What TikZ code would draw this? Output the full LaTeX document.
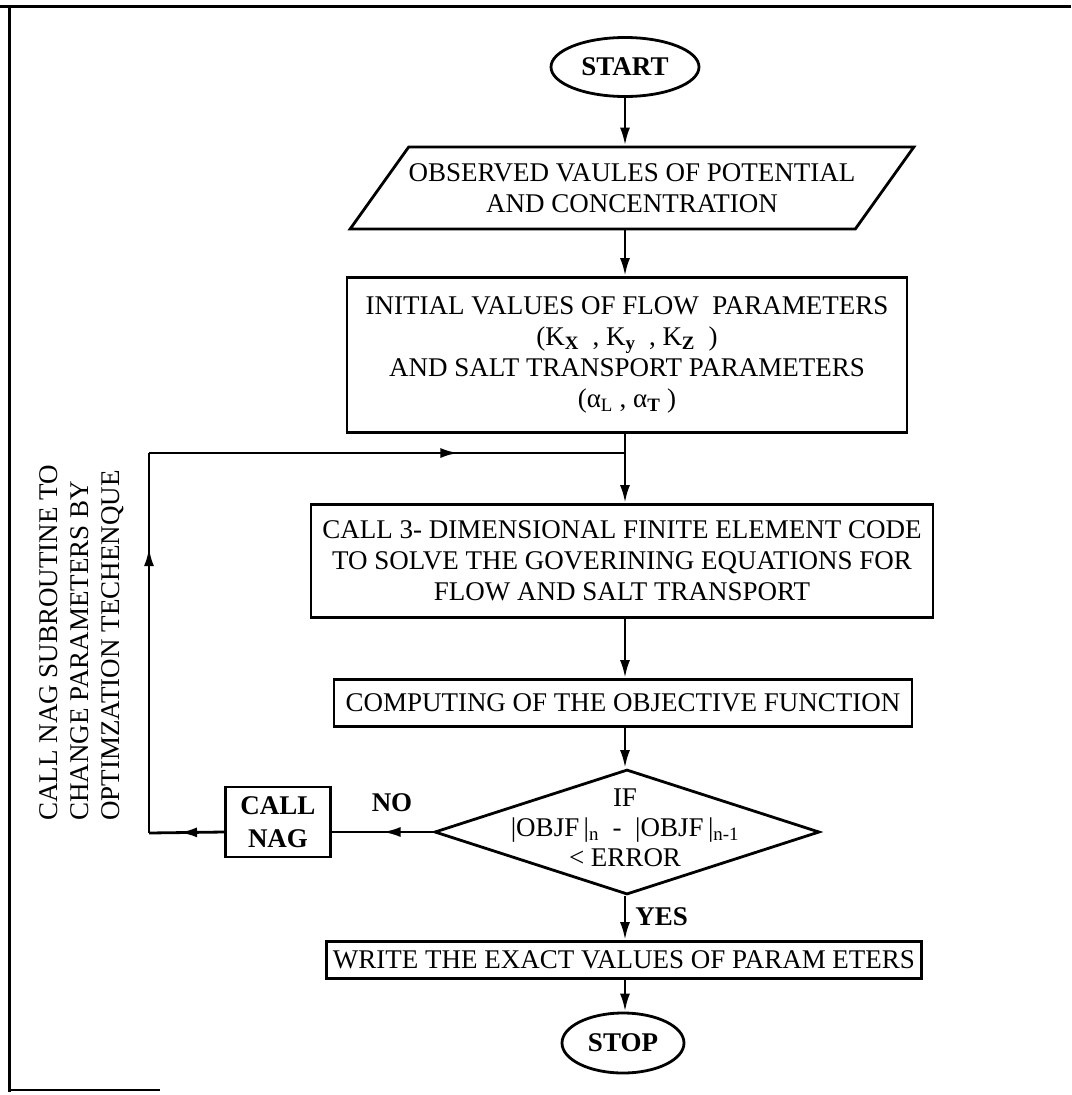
\documentclass[tikz,border=0pt]{standalone}
\usepackage{fontspec}
\setmainfont{Liberation Serif}
\usetikzlibrary{shapes.geometric,arrows.meta,decorations.markings}

\begin{document}
\begin{tikzpicture}[x=1pt,y=-1pt,line width=2.8pt,
  every node/.style={font=\fontsize{27}{31}\selectfont,inner sep=0pt},
  box/.style={draw,rectangle,align=center},
  term/.style={draw,ellipse,font=\fontsize{27}{31}\selectfont\bfseries},
  flow/.style={-{Latex[length=18pt,width=10pt]}},
  midarrow/.style={postaction={decorate,decoration={markings,
    mark=at position #1 with {\arrow{Latex[length=18pt,width=10pt]}}}}},
  midarrow/.default=0.5]
\useasboundingbox (0,0) rectangle (1071,1095);

% Page frame of the scan.
\draw[line width=3pt] (0,6) -- (1071,6);
\draw[line width=3pt] (9,6) -- (9,1092);
\draw[line width=2pt] (9,1090) -- (160,1090);

% Main column.
\node[term,minimum width=148pt,minimum height=59pt] (start) at (625,67) {START};
\node[draw,trapezium,trapezium left angle=40,trapezium right angle=140,
  trapezium stretches=true,minimum width=555pt,minimum height=82pt,
  align=center] (obs) at (632,188)
  {OBSERVED VAULES OF POTENTIAL\\AND CONCENTRATION};
\node[box,minimum width=560pt,minimum height=155pt] (init) at (627,355)
  {INITIAL VALUES OF FLOW\ \ PARAMETERS\\
   (K\textsubscript{\bfseries X}\ \ , K\textsubscript{\bfseries y}\ \ , K\textsubscript{\bfseries Z}\ \ )\\
   AND SALT TRANSPORT PARAMETERS\\
   (α\textsubscript{L} , α\textsubscript{\bfseries T} )};
\node[box,minimum width=622pt,minimum height=113pt] (call) at (622,561)
  {CALL 3- DIMENSIONAL FINITE ELEMENT CODE\\
   TO SOLVE THE GOVERINING EQUATIONS FOR\\
   FLOW AND SALT TRANSPORT};
\node[box,minimum width=578pt,minimum height=47pt] (comp) at (623,703)
  {COMPUTING OF THE OBJECTIVE FUNCTION};
\node[draw,diamond,minimum width=385pt,minimum height=125pt] (dec) at (627,832) {};
\node[align=center,font=\fontsize{27}{30}\selectfont] (cond) at (625,828)
  {IF\\
   |OBJF\,|\textsubscript{n}\ \ -\ \ |OBJF\,|\textsubscript{n-1}\\
   < ERROR};
\node[box,minimum width=595pt,minimum height=37pt] (write) at (624,960)
  {WRITE THE EXACT VALUES OF PARAM ETERS};
\node[term,minimum width=122pt,minimum height=60pt] (stop) at (623,1043) {STOP};

% Loop back through NAG.
\node[box,font=\fontsize{27}{33}\selectfont\bfseries,
  minimum width=105pt,minimum height=70pt] (nag) at (278,822) {CALL\\NAG};
\node[font=\fontsize{27}{31}\selectfont\bfseries] (no) at (392,803) {NO};
\node[font=\fontsize{27}{31}\selectfont\bfseries,anchor=west] (yes) at (634,917) {YES};
\node[rotate=90,anchor=west,align=left] (sub) at (82,822)
  {CALL NAG SUBROUTINE TO\\CHANGE PARAMETERS BY\\OPTIMZATION TECHENQUE};

\coordinate (c1) at (149,833);
\coordinate (c2) at (149,453);
\coordinate (join) at (625,453);

\draw[flow] (start.south) -- (start.south |- obs.north);
\draw[flow] (start.south |- obs.south) -- (start.south |- init.north);
\draw[flow] (join |- init.south) -- (join |- call.north);
\draw[flow] (join |- call.south) -- (join |- comp.north);
\draw[flow] (join |- comp.south) -- (join |- dec.north);
\draw[flow] (join |- dec.south) -- (join |- write.north);
\draw[flow] (join |- write.south) -- (join |- stop.north);

\draw[midarrow] (dec.west) -- (dec.west -| nag.east);
\draw[midarrow=0.6] (nag.west |- dec.west) -- (c1);
\draw[midarrow=0.75] (c1) -- (c2);
\draw[midarrow=0.65] (c2) -- (join);
\end{tikzpicture}
\end{document}
